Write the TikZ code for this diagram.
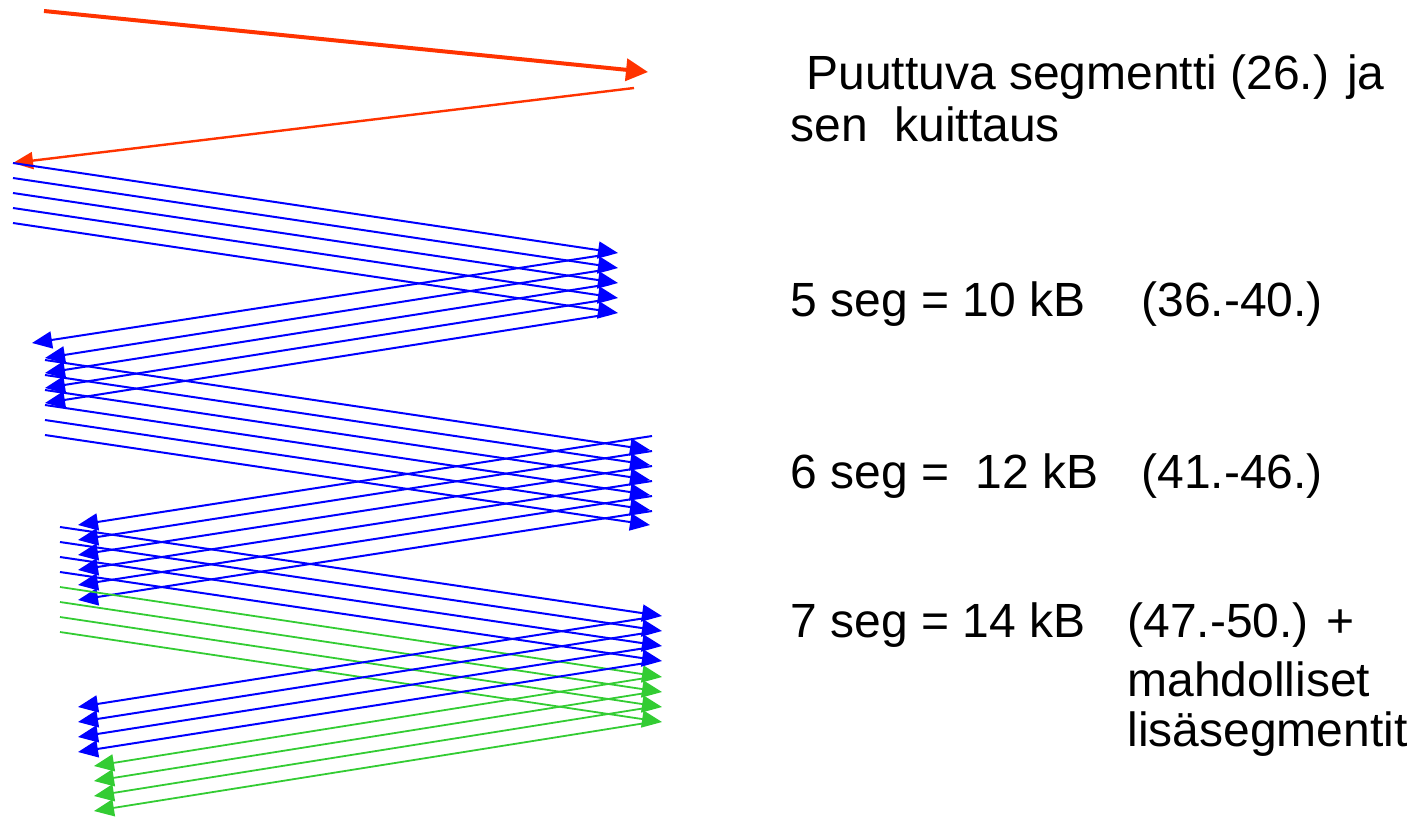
\documentclass[tikz,border=0pt]{standalone}
\usepackage{fontspec}
\setmainfont{Liberation Sans}
\usepackage{tikz}
\usetikzlibrary{arrows.meta}

\definecolor{lostred}{RGB}{255,51,0}
\definecolor{segblue}{RGB}{0,0,255}
\definecolor{extragreen}{RGB}{51,204,51}

\begin{document}
\begin{tikzpicture}[x=0.5pt,y=-0.5pt,
    tip/.style={-{Triangle[length=10pt,width=8.5pt]}},
    lost/.style={-{Triangle[length=11pt,width=11pt]},draw=lostred,fill=lostred,line width=2pt},
    lostack/.style={tip,draw=lostred,fill=lostred,line width=1.2pt},
    seg/.style={tip,draw=segblue,fill=segblue,line width=1pt},
    extra/.style={tip,draw=extragreen,fill=extragreen,line width=0.9pt},
    txt/.style={anchor=base west,inner sep=0pt,font=\fontsize{24}{25}\selectfont}]

    \useasboundingbox (0,0) rectangle (1416,819);

    \coordinate (r1) at (44,11);
    \coordinate (r2) at (648,72);
    \coordinate (r3) at (634,88);
    \coordinate (r4) at (13,163);
    \draw[lost] (r1) -- (r2);
    \draw[lostack] (r3) -- (r4);

    \foreach \k/\xl in {0/32,1/45,2/45,3/45,4/45} {
        \coordinate (a\k) at (13,163+15*\k);
        \coordinate (b\k) at (618,253+15*\k);
        \coordinate (c\k) at (610,254+15*\k);
        \coordinate (d\k) at (\xl,343+15*\k);
        \draw[seg] (a\k) -- (b\k);
        \draw[seg] (c\k) -- (d\k);
    }

    \foreach \k in {0,...,5} {
        \coordinate (e\k) at (45,360+15*\k);
        \coordinate (f\k) at (650,450+15*\k);
        \coordinate (g\k) at (652,436+15*\k);
        \coordinate (h\k) at (78,525+15*\k);
        \draw[seg] (e\k) -- (f\k);
        \draw[seg] (g\k) -- (h\k);
    }

    \foreach \k in {0,...,3} {
        \coordinate (i\k) at (60,527+15*\k);
        \coordinate (j\k) at (662,616+15*\k);
        \coordinate (m\k) at (60,587+15*\k);
        \coordinate (n\k) at (662,677+15*\k);
        \draw[seg] (i\k) -- (j\k);
        \draw[extra] (m\k) -- (n\k);
    }
    \foreach \k in {0,...,3} {
        \coordinate (p\k) at (652,617+15*\k);
        \coordinate (q\k) at (78,707+15*\k);
        \coordinate (u\k) at (652,677+15*\k);
        \coordinate (v\k) at (94,766+15*\k);
        \draw[seg] (p\k) -- (q\k);
        \draw[extra] (u\k) -- (v\k);
    }

    \node[txt] (lost1) at (806,89) {Puuttuva segmentti (26.) ja};
    \node[txt] (lost2) at (790,141) {sen\ \ kuittaus};
    \node[txt] (w5) at (790,316) {5 seg = 10 kB};
    \node[txt] (w5n) at (1141,316) {(36.-40.)};
    \node[txt] (w6) at (790,488) {6 seg =\ \ 12 kB};
    \node[txt] (w6n) at (1141,488) {(41.-46.)};
    \node[txt] (w7) at (790,637) {7 seg = 14 kB};
    \node[txt] (w7n) at (1127,637) {(47.-50.) +};
    \node[txt] (w7m) at (1127,696) {mahdolliset};
    \node[txt] (w7l) at (1127,746) {lisäsegmentit};

\end{tikzpicture}
\end{document}
